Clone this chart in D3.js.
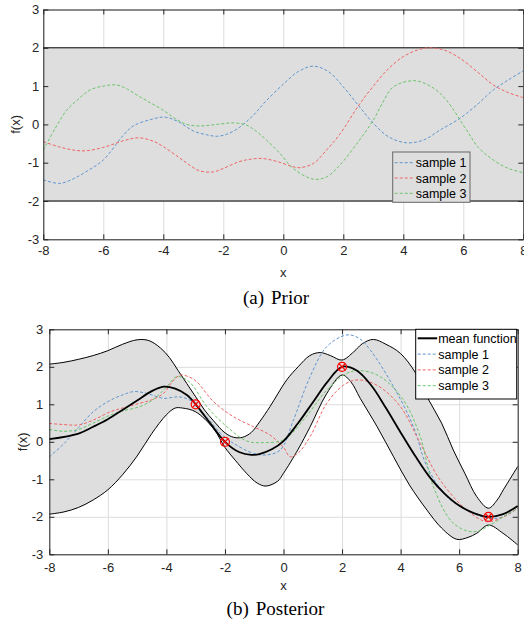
<!DOCTYPE html>
<html>
<head>
<meta charset="utf-8">
<script src="https://d3js.org/d3.v7.min.js"></script>
<style>
  body { margin: 0; background: #fff; }
</style>
</head>
<body>
<div id="chart"></div>
<script>
// ---------- data ----------
const xTicks = [-8, -6, -4, -2, 0, 2, 4, 6, 8];
const yTicks = [-3, -2, -1, 0, 1, 2, 3];
const sampleNames = ["sample 1", "sample 2", "sample 3"];
const sampleColors = ["#5f96cf", "#f06464", "#6ac46a"];

// (a) prior: +/- 2 band and three samples
const priorUpper = [[-8, 2], [8, 2]];
const priorLower = [[-8, -2], [8, -2]];
const prior1 = [[-8,-1.45],[-7.45,-1.54],[-7,-1.42],[-6.5,-1.2],[-6,-0.93],[-5.33,-0.28],[-5,-0.04],[-4.45,0.12],
  [-3.95,0.19],[-3.5,0.07],[-3,-0.17],[-2.5,-0.28],[-2.2,-0.31],[-1.9,-0.26],[-1.5,-0.1],[-1.0,0.24],[-0.6,0.59],
  [0,1.05],[0.5,1.38],[1.0,1.52],[1.5,1.38],[2,0.98],[2.5,0.5],[3,0.03],[3.5,-0.32],[4.1,-0.48],[4.67,-0.41],
  [5.22,-0.15],[5.89,0.16],[6.44,0.5],[7,0.9],[7.5,1.16],[8,1.4]];
const prior2 = [[-8,-0.45],[-7.5,-0.58],[-7,-0.67],[-6.6,-0.69],[-6,-0.6],[-5.3,-0.42],[-4.8,-0.35],[-4.3,-0.45],
  [-4,-0.58],[-3.5,-0.85],[-3.2,-1.02],[-2.8,-1.21],[-2.33,-1.24],[-2,-1.15],[-1.5,-0.98],[-1.1,-0.91],[-0.7,-0.89],
  [-0.2,-0.97],[0.3,-1.1],[0.55,-1.13],[1.0,-1.02],[1.44,-0.67],[1.9,-0.24],[2.5,0.48],[3,1.0],[3.5,1.45],[4,1.77],
  [4.5,1.95],[4.9,2.0],[5.4,1.93],[5.9,1.72],[6.5,1.35],[7,1.03],[7.5,0.83],[8,0.7]];
const prior3 = [[-8,-0.67],[-7.6,-0.1],[-7.22,0.37],[-6.8,0.68],[-6.44,0.9],[-6,1.0],[-5.55,1.03],[-5.2,0.92],
  [-4.78,0.72],[-4.4,0.55],[-4,0.37],[-3.6,0.15],[-3.22,0.0],[-2.78,-0.04],[-2.2,0.0],[-1.67,0.04],[-1.22,-0.02],
  [-0.9,-0.18],[-0.56,-0.41],[-0.11,-0.76],[0.33,-1.15],[1.0,-1.43],[1.44,-1.37],[1.89,-1.06],[2.5,-0.45],[3,0.11],
  [3.3,0.55],[3.67,0.98],[4.39,1.14],[5,0.95],[5.44,0.63],[6.11,-0.15],[6.5,-0.6],[7,-0.93],[7.5,-1.15],[8,-1.26]];

// (b) posterior: mean, confidence band, samples, observations
const obsX = [-3, -2, 2, 7];
const obsY = [1, 0, 2, -2];
const postMean = [[-8,0.07],[-7,0.22],[-6.5,0.4],[-6,0.6],[-5.5,0.85],[-5,1.1],[-4.5,1.35],[-4.1,1.47],[-3.7,1.42],
  [-3.3,1.25],[-3,1.0],[-2.5,0.49],[-2,0],[-1.5,-0.28],[-1.1,-0.35],[-0.8,-0.32],[-0.4,-0.2],[0,0.02],[0.5,0.5],
  [1,1.05],[1.5,1.6],[2,2.0],[2.5,1.9],[3,1.5],[3.5,0.9],[4,0.25],[4.5,-0.38],[5,-0.95],[5.5,-1.38],[6,-1.7],
  [6.5,-1.9],[7,-2.0],[7.5,-1.93],[8,-1.71]];
const postUpper = [[-8,2.07],[-7.5,2.12],[-7,2.2],[-6.5,2.3],[-6,2.43],[-5.5,2.6],[-5,2.72],[-4.6,2.7],[-4.2,2.5],
  [-3.9,2.25],[-3.6,1.9],[-3.3,1.55],[-3,1.2],[-2.7,0.85],[-2.39,0.56],[-2,0.24],[-1.7,0.12],[-1.4,0.12],[-1.1,0.25],
  [-0.8,0.55],[-0.46,0.94],[0.11,1.65],[0.5,2.0],[0.9,2.3],[1.25,2.38],[1.6,2.3],[2,2.18],[2.4,2.4],[2.7,2.62],
  [3.07,2.73],[3.5,2.6],[3.99,2.36],[4.5,1.85],[4.9,1.2],[5.4,0.5],[5.8,-0.22],[6.2,-0.85],[6.6,-1.46],[7,-1.77],
  [7.3,-1.55],[7.51,-1.28],[8,-0.66]];
const postLower = [[-8,-1.93],[-7.5,-1.87],[-7,-1.75],[-6.5,-1.55],[-6,-1.28],[-5.5,-0.88],[-5,-0.38],[-4.5,0.22],
  [-4,0.72],[-3.7,0.9],[-3.45,0.9],[-3,0.8],[-2.39,0.35],[-2,-0.15],[-1.65,-0.49],[-1.25,-0.85],[-0.9,-1.1],
  [-0.6,-1.18],[-0.2,-1.05],[0,-0.84],[0.5,-0.2],[0.91,0.4],[1.48,1.29],[2,1.78],[2.3,1.6],[2.62,1.16],[3.2,0.4],
  [3.76,-0.4],[4.3,-1.15],[4.9,-1.82],[5.4,-2.3],[5.92,-2.6],[6.3,-2.55],[6.6,-2.44],[7,-2.22],[7.5,-2.44],[8,-2.75]];
const post1 = [[-8,-0.4],[-7.5,-0.05],[-7,0.38],[-6.5,0.8],[-6,1.07],[-5.5,1.25],[-5.1,1.34],[-4.67,1.29],[-4.1,1.16],
  [-3.6,1.2],[-3.3,1.15],[-3,1.0],[-2.85,0.85],[-2.5,0.55],[-2.16,0.23],[-1.71,-0.04],[-1.02,-0.31],[-0.6,-0.35],
  [-0.11,-0.22],[0.34,0.58],[0.91,1.74],[1.48,2.54],[2.17,2.85],[2.6,2.75],[2.96,2.45],[3.76,1.47],[4.44,0.4],
  [4.9,-0.66],[5.58,-1.46],[6.26,-1.82],[7,-2.04],[7.51,-2.0],[8,-1.77]];
const post2 = [[-8,0.49],[-7.5,0.46],[-7,0.45],[-6.5,0.58],[-5.92,0.8],[-5.5,0.9],[-4.9,1.03],[-4.5,1.12],[-4.1,1.29],
  [-3.8,1.6],[-3.53,1.78],[-3.2,1.72],[-2.96,1.6],[-2.39,1.07],[-1.71,0.67],[-1.02,0.4],[-0.46,0.18],[0,-0.15],
  [0.23,-0.4],[0.5,-0.3],[0.91,0.14],[1.48,1.03],[2.05,1.51],[2.51,1.65],[3.19,1.51],[3.99,0.94],[4.67,-0.04],
  [5.35,-1.02],[6.26,-1.82],[6.95,-2.13],[7.51,-2.0],[8,-1.77]];
const post3 = [[-8,0.33],[-7.5,0.28],[-7,0.33],[-6.5,0.5],[-5.92,0.71],[-5.5,0.82],[-4.9,0.94],[-4.5,1.1],[-4.21,1.29],
  [-3.9,1.55],[-3.64,1.74],[-3.3,1.65],[-3.07,1.47],[-2.62,0.94],[-1.93,0.4],[-1.25,0.02],[-0.68,-0.02],[0,0.05],
  [0.68,0.58],[1.48,1.38],[2.17,1.83],[2.62,1.9],[3.3,1.74],[4.1,1.11],[4.67,0.14],[5.12,-1.2],[5.8,-2.17],
  [6.49,-2.4],[7.17,-2.17],[7.6,-1.95],[8,-1.77]];

// ---------- drawing ----------
const sansFont = '"Liberation Sans", Arial, sans-serif';
const serifFont = '"Liberation Serif", "Times New Roman", serif';

const svg = d3.select("#chart").append("svg")
    .attr("width", 524)
    .attr("height", 625)
    .style("font-family", sansFont);

const axisColor = "#262626";
const gridColor = "#dcdcdc";
const bandColor = "#dedede";

function panel(box, cfg) {
    const x = d3.scaleLinear().domain([-8, 8]).range([box.left, box.right]);
    const y = d3.scaleLinear().domain([-3, 3]).range([box.bottom, box.top]);
    const line = d3.line().x(d => x(d[0])).y(d => y(d[1])).curve(d3.curveCatmullRom.alpha(0.5));
    const g = svg.append("g");

    // grid
    g.append("g").attr("transform", `translate(0,${box.bottom})`)
        .call(d3.axisBottom(x).tickValues(xTicks).tickSize(-(box.bottom - box.top)).tickFormat(""))
        .call(a => a.select(".domain").remove())
        .call(a => a.selectAll("line").attr("stroke", gridColor));
    g.append("g").attr("transform", `translate(${box.left},0)`)
        .call(d3.axisLeft(y).tickValues(yTicks).tickSize(-(box.right - box.left)).tickFormat(""))
        .call(a => a.select(".domain").remove())
        .call(a => a.selectAll("line").attr("stroke", gridColor));

    // band
    const up = line(cfg.upper);
    const lo = line(cfg.lower.slice().reverse()).replace(/^M/, "L");
    g.append("path").attr("d", up + lo + "Z").attr("fill", bandColor).attr("stroke", "none");
    g.append("path").attr("d", line(cfg.upper)).attr("fill", "none").attr("stroke", "#000").attr("stroke-width", 1);
    g.append("path").attr("d", line(cfg.lower)).attr("fill", "none").attr("stroke", "#000").attr("stroke-width", 1);

    // samples
    cfg.samples.forEach((s, i) => {
        g.append("path").attr("d", line(s))
            .attr("fill", "none")
            .attr("stroke", sampleColors[i])
            .attr("stroke-width", 1)
            .attr("stroke-dasharray", "3,2");
    });

    if (cfg.mean) {
        g.append("path").attr("d", line(cfg.mean))
            .attr("fill", "none").attr("stroke", "#000").attr("stroke-width", 1.8);
    }

    if (cfg.obs) {
        const obs = obsX.map((v, i) => [v, obsY[i]]);
        g.selectAll(".obs").data(obs).join("circle")
            .attr("cx", d => x(d[0])).attr("cy", d => y(d[1])).attr("r", 4.5)
            .attr("fill", "none").attr("stroke", "#ff0000").attr("stroke-width", 1.2);
        g.selectAll(".obsx").data(obs).join("path")
            .attr("transform", d => `translate(${x(d[0])},${y(d[1])})`)
            .attr("d", d3.symbol(d3.symbolX, 30))
            .attr("fill", "none").attr("stroke", "#ff0000").attr("stroke-width", 1.2);
    }

    // axes (box with inward ticks)
    const fmt = d => String(d);
    const style = a => {
        a.attr("color", axisColor).attr("font-family", sansFont).attr("font-size", 13);
        a.selectAll("text").attr("fill", axisColor);
    };
    g.append("g").attr("transform", `translate(0,${box.bottom})`)
        .call(d3.axisBottom(x).tickValues(xTicks).tickSize(-5).tickSizeOuter(0).tickPadding(cfg.xPad).tickFormat(fmt))
        .call(style);
    g.append("g").attr("transform", `translate(0,${box.top})`)
        .call(d3.axisTop(x).tickValues(xTicks).tickSize(-5).tickSizeOuter(0).tickFormat(""))
        .call(style);
    g.append("g").attr("transform", `translate(${box.left},0)`)
        .call(d3.axisLeft(y).tickValues(yTicks).tickSize(-5).tickSizeOuter(0).tickPadding(cfg.yPad).tickFormat(fmt))
        .call(style);
    g.append("g").attr("transform", `translate(${box.right},0)`)
        .call(d3.axisRight(y).tickValues(yTicks).tickSize(-5).tickSizeOuter(0).tickFormat(""))
        .call(style);

    // axis labels
    g.append("text").attr("x", x(0)).attr("y", cfg.xLabelY)
        .attr("text-anchor", "middle").attr("font-size", 13).attr("fill", axisColor).text("x");
    g.append("text").attr("transform", `translate(${cfg.yLabelX},${(box.top + box.bottom) / 2}) rotate(-90)`)
        .attr("text-anchor", "middle").attr("font-size", 13).attr("fill", axisColor).text("f(x)");

    // caption
    const cap = g.append("text").attr("x", cfg.capX).attr("y", cfg.capY)
        .attr("text-anchor", "middle").attr("font-size", 19)
        .style("font-family", serifFont).attr("fill", "#000");
    cap.append("tspan").text(cfg.capA);
    cap.append("tspan").attr("dx", 7).text(cfg.capB);

    // legend
    const L = cfg.legend;
    const entries = cfg.mean
        ? [{name: "mean function", color: "#000", w: 2, dash: null}]
        : [];
    sampleNames.forEach((n, i) => entries.push({name: n, color: sampleColors[i], w: 1, dash: "3,2"}));
    const lg = g.append("g");
    lg.append("rect").attr("x", L.x).attr("y", L.y).attr("width", L.w).attr("height", L.h)
        .attr("fill", L.fill).attr("stroke", L.stroke).attr("stroke-width", 1);
    entries.forEach((e, i) => {
        const cy = L.y + L.first + i * L.step;
        lg.append("line").attr("x1", L.x + 2).attr("x2", L.x + L.lineW).attr("y1", cy).attr("y2", cy)
            .attr("stroke", e.color).attr("stroke-width", e.w).attr("stroke-dasharray", e.dash);
        lg.append("text").attr("x", L.x + L.lineW + 1).attr("y", cy + 4.5)
            .attr("font-size", 12.5).attr("fill", "#000").text(e.name);
    });
}

panel({left: 43.3, right: 523.3, top: 9.5, bottom: 239.3}, {
    upper: priorUpper, lower: priorLower,
    samples: [prior1, prior2, prior3],
    xPad: 6, yPad: 4, xLabelY: 277, yLabelX: 20,
    capX: 276, capY: 304, capA: "(a)", capB: "Prior",
    legend: {x: 392.7, y: 152, w: 77.3, h: 50.3, first: 10.7, step: 15.3, lineW: 22, fill: bandColor, stroke: "#666"}
});

panel({left: 49.3, right: 517.7, top: 329.3, bottom: 554.3}, {
    upper: postUpper, lower: postLower, mean: postMean, obs: true,
    samples: [post1, post2, post3],
    xPad: 8, yPad: 6, xLabelY: 590, yLabelX: 27,
    capX: 275.5, capY: 615, capA: "(b)", capB: "Posterior",
    legend: {x: 415.7, y: 329.3, w: 101, h: 69.7, first: 9, step: 15.8, lineW: 21.5, fill: "#fff", stroke: "#000"}
});
</script>
</body>
</html>
